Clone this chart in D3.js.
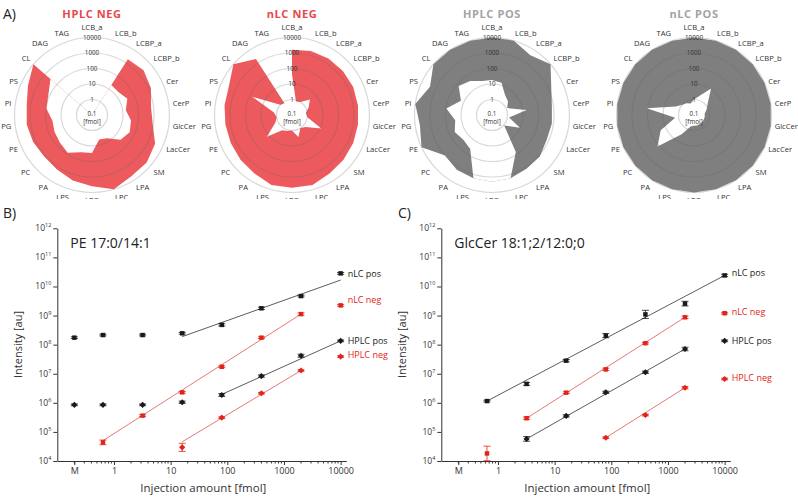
<!DOCTYPE html>
<html><head><meta charset="utf-8">
<script src="https://cdn.jsdelivr.net/npm/d3@7"></script>
<style>
body{margin:0;background:#fff;}
svg{display:block;}
text{font-family:"Open Sans","Noto Sans",sans-serif;}
</style></head>
<body>
<svg id="c" width="798" height="499"></svg>
<script>
// ---------- DATA ----------
const categories = ["LCB_a","LCB_b","LCBP_a","LCBP_b","Cer","CerP","GlcCer","LacCer","SM","LPA","LPC","LPG","LPS","PA","PC","PE","PG","PI","PS","CL","DAG","TAG"];
const ringValues = [1,10,100,1000,10000];
const ringLabels = ["1","10","100","1000","10000"];
// upper / lower limits of linear range [fmol] (0.1 = not detected)
const hplcNegHi = [0.1,0.1,1900,2500,1500,700,900,3000,4700,5000,10000,4000,2500,1500,1200,1500,1800,1800,3500,10000,0.1,0.1];
const hplcNegLo = [0.1,0.1,20,18,32,16,35,47,28,6,4.5,28,32,80,54,45,38,94,125,350,0.1,0.1];
const nlcNegHi  = [1600,2000,2200,2200,2200,2000,2000,2200,2500,3000,5000,5000,5000,3000,2500,2200,2200,2500,3000,10000,2000,0.1];
const nlcNegLo  = [45,0.8,1,3.4,1.5,0.8,1,12,1.5,1,3,1,1.2,1.5,14,1.5,1,1.5,66,1,0.8,0.5];
const hplcPosHi = [10000,10000,3800,10000,1600,800,800,750,1200,1300,1800,2000,1800,1600,1000,10000,5000,10000,2500,10000,10000,10000];
const hplcPosLo = [18,15,3.5,2.3,1.2,18,1.3,9.5,1.1,70,1800,2000,1800,40,28,44,25,94,16,70,40,19];
const nlcPosHi  = [10000,10000,10000,10000,10000,10000,10000,10000,10000,10000,10000,10000,10000,10000,10000,10000,10000,10000,10000,10000,10000,10000];
const nlcPosLo  = [1,2,11,1.5,0.8,0.5,0.5,0.5,0.5,0.5,0.5,0.5,0.6,3,130,23,1.7,120,2,1,0.8,0.6];
const radarTitles = ["HPLC NEG","nLC NEG","HPLC POS","nLC POS"];

// Panels B and C: injection amounts [fmol] (0.2 = "M", matrix blank)
const amounts = [0.2,0.64,3.2,16,80,400,2000,10000];
const xTickValues = [0.2,1,10,100,1000,10000];
const xTickLabels = ["M","1","10","100","1000","10000"];
const yTickExp = [4,5,6,7,8,9,10,11,12];
const seriesNames = ["nLC pos","nLC neg","HPLC pos","HPLC neg"];
// log10 intensities, null = not shown
const peNlcPos  = [8.24,8.33,8.33,8.39,8.68,9.25,9.67,10.45];
const peNlcNeg  = [null,4.64,5.56,6.36,7.24,8.24,9.05,9.35];
const peHplcPos = [5.93,5.93,5.93,6.02,6.27,6.92,7.62,8.13];
const peHplcNeg = [null,null,null,4.47,5.49,6.33,7.11,7.59];
const peErr = [[0.03,0.03,0.03,0.03,0.04,0.04,0.03,0.03],[0,0.08,0.03,0.03,0.03,0.03,0.04,0.03],[0.03,0.03,0.03,0.04,0.05,0.04,0.05,0.03],[0,0,0,0.14,0.03,0.03,0.03,0.03]];
const peFit = [[16,8.275,10000,10.22],[0.64,4.70,2000,9.05],[80,6.29,10000,8.13],[16,4.66,2000,7.11]];
const gcNlcPos  = [null,6.06,6.65,7.45,8.31,9.04,9.41,10.38];
const gcNlcNeg  = [null,4.26,5.47,6.35,7.15,8.05,8.94,9.08];
const gcHplcPos = [null,null,4.76,5.55,6.36,7.05,7.85,8.13];
const gcHplcNeg = [null,null,null,null,4.80,5.58,6.52,6.82];
const gcErr = [[0,0.03,0.05,0.04,0.07,0.14,0.08,0.04],[0,0.25,0.04,0.03,0.04,0.03,0.04,0.03],[0,0,0.08,0.04,0.04,0.04,0.06,0.03],[0,0,0,0,0.03,0.03,0.04,0.03]];
const gcFit = [[0.64,6.06,10000,10.38],[3.2,5.47,2000,8.94],[3.2,4.76,2000,7.85],[80,4.80,2000,6.52]];

// ---------- DRAW ----------
const svg = d3.select("#c");
const RED = "#ec5a5d", GRAY = "#7f7f7f";
const titleColors = ["#e8474c","#e8474c","#a3a3a3","#a3a3a3"];
const fillColors = [RED,RED,GRAY,GRAY];
const his = [hplcNegHi,nlcNegHi,hplcPosHi,nlcPosHi];
const los = [hplcNegLo,nlcNegLo,hplcPosLo,nlcPosLo];
const centersX = [92,292,492,694];
const cy = 115, R = 77.5;
const rS = d3.scaleLog().domain([0.1,10000]).range([0,R]).clamp(true);
const ang = d3.scaleLinear().domain([0,categories.length]).range([0,2*Math.PI]);

svg.append("defs").append("clipPath").attr("id","topclip")
  .append("rect").attr("x",0).attr("y",0).attr("width",798).attr("height",199);
const topG = svg.append("g").attr("clip-path","url(#topclip)");
svg.append("text").attr("x",3).attr("y",19).attr("font-size",14).attr("fill","#222").text("A)");

radarTitles.forEach((t,p)=>{
  const cx = centersX[p];
  const g = topG.append("g");
  const pt = (v,i)=>[cx + rS(v)*Math.sin(ang(i)), cy - rS(v)*Math.cos(ang(i))];
  const line = d3.line().curve(d3.curveLinearClosed);
  g.append("path").attr("d", line(his[p].map(pt))).attr("fill",fillColors[p]);
  g.append("path").attr("d", line(los[p].map(pt))).attr("fill","#fff");
  g.selectAll("circle.ring").data(ringValues).join("circle")
    .attr("cx",cx).attr("cy",cy).attr("r",d=>rS(d))
    .attr("fill","none").attr("stroke","rgba(100,100,100,0.25)").attr("stroke-width",1.2);
  g.selectAll("text.rl").data(ringValues).join("text")
    .attr("x",cx).attr("y",d=>cy-rS(d)).attr("dy","0.35em")
    .attr("text-anchor","middle").attr("font-size",6.3).attr("fill","#333")
    .text((d,i)=>ringLabels[i]);
  g.append("text").attr("x",cx).attr("y",cy+1).attr("text-anchor","middle")
    .attr("font-size",6.3).attr("fill","#333").text("0.1");
  g.append("text").attr("x",cx).attr("y",cy+8.5).attr("text-anchor","middle")
    .attr("font-size",6.3).attr("fill","#333").text("[fmol]");
  categories.forEach((c,i)=>{
    const a = ang(i), s = Math.sin(a), co = Math.cos(a);
    const rl = R+4;
    const x = cx + rl*s, y = cy - rl*co;
    const anchor = s>0.15?"start":(s<-0.15?"end":"middle");
    let dy = "0.35em";
    if (co>0.99) dy = "-0.4em"; else if (co>0.6) dy = "-0.1em"; else if (co<-0.6) dy = "0.85em";
    g.append("text").attr("x",x).attr("y",y).attr("dy",dy).attr("text-anchor",anchor)
      .attr("font-size",7.6).attr("fill","#333").text(c);
  });
  svg.append("text").attr("x",cx).attr("y",18).attr("text-anchor","middle")
    .attr("font-size",11).attr("font-weight","bold").attr("letter-spacing",0.6)
    .attr("fill",titleColors[p]).text(t);
});

// ---------- panels B / C ----------
const serColors = ["#1a1a1a","#e2231a","#1a1a1a","#e2231a"];
const lineColors = ["#4a4a4a","#e06a6a","#4a4a4a","#e06a6a"];
const shapes = ["square","square","diamond","diamond"];
const diamondType = d3.symbolDiamond2 || d3.symbolDiamond;

function panel(opt){
  const x = d3.scaleLog().domain([0.1, Math.pow(10,4.1)]).range([opt.x0, opt.x0+289]);
  const y = d3.scaleLog().domain([1e4,1e12]).range([461,228.3]);
  const g = svg.append("g");
  g.append("text").attr("x",opt.lx).attr("y",218).attr("font-size",14).attr("fill","#222").text(opt.letter);
  const xa = d3.axisBottom(x).tickValues(xTickValues).tickFormat((d,i)=>xTickLabels[i]).tickSize(4).tickSizeOuter(0);
  const xg = g.append("g").attr("transform","translate(0,461)").call(xa);
  xg.selectAll("text").attr("font-size",9).attr("fill","#333").attr("font-family","'Noto Sans',sans-serif");
  xg.select(".domain").attr("stroke","#333");
  xg.selectAll(".tick line").attr("stroke","#333");
  const minor = [];
  [1,10,100,1000].forEach(b=>{for(let k=2;k<=9;k++) minor.push(b*k);});
  [0.2,0.3,0.4,0.5,0.6,0.7,0.8,0.9].forEach(v=>minor.push(v));
  xg.selectAll("line.minor").data(minor).join("line")
    .attr("x1",d=>x(d)).attr("x2",d=>x(d)).attr("y1",0).attr("y2",2.5).attr("stroke","#333");
  const ya = d3.axisLeft(y).tickValues(yTickExp.map(e=>Math.pow(10,e))).tickFormat("").tickSize(4).tickSizeOuter(0);
  const yg = g.append("g").attr("transform",`translate(${opt.x0},0)`).call(ya);
  yg.select(".domain").attr("stroke","#333");
  yg.selectAll(".tick line").attr("stroke","#333");
  yTickExp.forEach(e=>{
    const t = g.append("text").attr("x",opt.x0-6).attr("y",y(Math.pow(10,e))+3)
      .attr("text-anchor","end").attr("font-size",8.5).attr("fill","#333").attr("font-family","'Noto Sans',sans-serif");
    t.append("tspan").text("10");
    t.append("tspan").attr("dy",-4).attr("font-size",5.5).text(e);
  });
  g.append("text").attr("transform",`translate(${opt.x0-35},${(228+461)/2}) rotate(-90)`)
    .attr("text-anchor","middle").attr("font-size",11).attr("fill","#333")
    .attr("font-family","'Noto Sans',sans-serif").text("Intensity [au]");
  g.append("text").attr("x",opt.x0+146).attr("y",492).attr("text-anchor","middle")
    .attr("font-size",11.5).attr("fill","#333").attr("font-family","'Noto Sans',sans-serif")
    .text("Injection amount [fmol]");
  g.append("text").attr("x",opt.x0+13).attr("y",248).attr("font-size",14).attr("fill","#222")
    .attr("font-family","'Noto Sans',sans-serif").text(opt.title);
  opt.fit.forEach((f,s)=>{
    g.append("line").attr("x1",x(f[0])).attr("y1",y(Math.pow(10,f[1])))
      .attr("x2",x(f[2])).attr("y2",y(Math.pow(10,f[3])))
      .attr("stroke",lineColors[s]).attr("stroke-width",0.9);
  });
  opt.series.forEach((vals,s)=>{
    vals.forEach((v,i)=>{
      if(v===null) return;
      const px = x(amounts[i]), py = y(Math.pow(10,v));
      const e = opt.err[s][i];
      const y1 = y(Math.pow(10,v+e)), y2 = y(Math.pow(10,v-e));
      g.append("line").attr("x1",px).attr("x2",px).attr("y1",y1).attr("y2",y2).attr("stroke",serColors[s]).attr("stroke-width",0.8);
      [y1,y2].forEach(yy=>g.append("line").attr("x1",px-3.5).attr("x2",px+3.5).attr("y1",yy).attr("y2",yy).attr("stroke",serColors[s]).attr("stroke-width",0.8));
      const sym = d3.symbol().type(shapes[s]==="square"?d3.symbolSquare:diamondType).size(shapes[s]==="square"?20:24);
      g.append("path").attr("d",sym()).attr("transform",`translate(${px},${py})`).attr("fill",serColors[s]);
    });
    const lv = vals[vals.length-1];
    g.append("text").attr("x",x(10000)+7).attr("y",y(Math.pow(10,lv+opt.labOff[s]))).attr("dy","0.35em")
      .attr("font-size",9).attr("fill",serColors[s]).attr("font-family","'Noto Sans',sans-serif")
      .text(seriesNames[s]);
  });
}
panel({x0:57.3, lx:3, letter:"B)", title:"PE 17:0/14:1",
  series:[peNlcPos,peNlcNeg,peHplcPos,peHplcNeg], err:peErr, fit:peFit, labOff:[0,0.18,0,0.05]});
panel({x0:441.3, lx:398, letter:"C)", title:"GlcCer 18:1;2/12:0;0",
  series:[gcNlcPos,gcNlcNeg,gcHplcPos,gcHplcNeg], err:gcErr, fit:gcFit, labOff:[0.1,0.05,0,0.05]});
</script>
</body></html>
